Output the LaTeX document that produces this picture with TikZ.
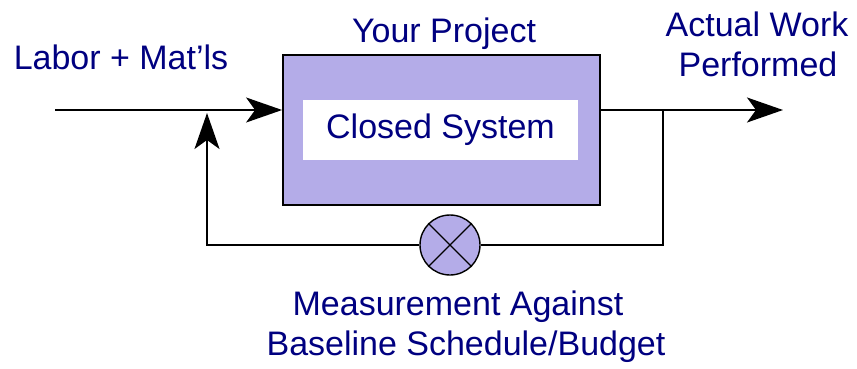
\documentclass[tikz,border=0pt]{standalone}
\usepackage{fontspec}
\setmainfont{Liberation Sans}
\usetikzlibrary{arrows.meta}

\definecolor{projfill}{RGB}{180,172,232}
\definecolor{navytext}{RGB}{0,0,128}

\begin{document}
\begin{tikzpicture}[x=1pt, y=-1pt, line width=1.8pt,
	txt/.style={text=navytext, font=\fontsize{34}{40}\selectfont, anchor=base, inner sep=0pt},
	arr/.style={-{Stealth[length=36pt, width=25pt, inset=9pt]}}]
	\useasboundingbox (0,0) rectangle (857,369);

	% project box
	\node[draw, fill=projfill, minimum width=317pt, minimum height=150pt, inner sep=0pt] (box) at (441.5,130) {};
	\node[fill=white, minimum width=275pt, minimum height=60pt, inner sep=0pt,
		text=navytext, font=\fontsize{34}{40}\selectfont] (sys) at (440.5,130) {Closed System};

	% measurement junction
	\node[circle, draw, fill=projfill, line width=1.4pt, minimum size=60pt, inner sep=0pt] (meas) at (450,245) {};
	\draw[line width=1.3pt] (meas.45) -- (meas.225) (meas.135) -- (meas.315);

	% labels
	\node[txt] (your) at (444,43) {Your Project};
	\node[txt] (labor) at (121,70) {Labor + Mat'ls};
	\node[txt] (actual) at (757,37) {Actual Work};
	\node[txt] (perf) at (758,77) {Performed};
	\node[txt] (measA) at (458,315) {Measurement Against};
	\node[txt] (measB) at (466,355) {Baseline Schedule/Budget};

	% connectors
	\coordinate (src) at (55,110);
	\coordinate (sink) at (783,110);
	\coordinate (tap) at (663,110);
	\coordinate (fbk) at (207,113);

	\draw[arr] (src) -- (box.west |- src);
	\draw[arr] (box.east |- src) -- (sink);
	\draw (tap) |- (meas.east);
	\draw[arr] (meas.west) -| (fbk);
\end{tikzpicture}
\end{document}
